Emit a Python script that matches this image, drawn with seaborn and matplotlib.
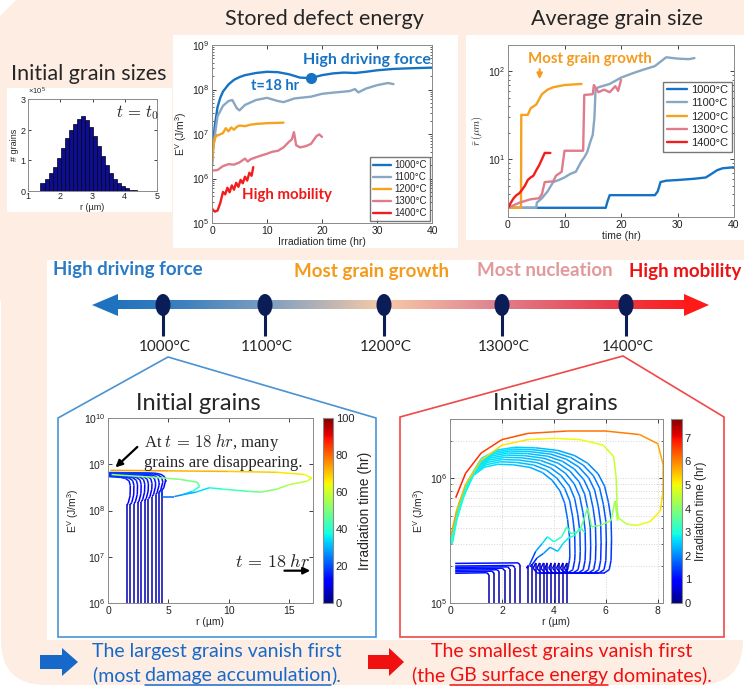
import matplotlib
matplotlib.use('Agg')
import matplotlib.pyplot as plt
import numpy as np
import pandas as pd
import seaborn as sns
from matplotlib.collections import LineCollection
from matplotlib.colors import LinearSegmentedColormap, Normalize
from matplotlib.cm import ScalarMappable
from matplotlib.patches import Ellipse, FancyBboxPatch, Polygon, Rectangle
from matplotlib.ticker import LogLocator, NullFormatter, NullLocator, ScalarFormatter, FixedLocator

sns.set_style('ticks')
plt.rcParams['font.family'] = ['Liberation Sans', 'DejaVu Sans']
plt.rcParams['mathtext.fontset'] = 'custom'
plt.rcParams['mathtext.rm'] = 'Liberation Sans'
plt.rcParams['mathtext.it'] = 'Liberation Sans:italic'
plt.rcParams['mathtext.bf'] = 'Liberation Sans:bold'

W, H = 744, 686
PEACH = '#fdede3'
TITLE_FONT = ['Lato', 'DejaVu Sans']

temps = ['1000°C', '1100°C', '1200°C', '1300°C', '1400°C']
temp_colors = ['#1673c3', '#87a7c3', '#f5a31f', '#e07b8b', '#f31d1d']

# initial grain size histogram (counts)
hist_r = [1.45, 1.575, 1.7, 1.825, 1.95, 2.075, 2.2, 2.325, 2.45, 2.575, 2.7, 2.825,
          2.95, 3.075, 3.2, 3.325, 3.45, 3.575, 3.7, 3.825, 3.95, 4.075, 4.2, 4.325]
hist_n = [27000, 39000, 59000, 79000, 108000, 139000, 172000, 199000, 218000, 234000, 243000, 230000,
          208000, 180000, 147000, 113000, 84000, 60000, 40000, 26000, 16000, 9000, 4000, 2000]

# stored defect energy vs irradiation time
t_e1000 = [0, 0.2, 0.5, 1, 1.5, 2, 3, 4, 5, 6, 8, 10, 12, 14, 16, 18, 19, 20, 22, 24, 26, 28, 30, 33, 36, 40]
e_1000 = [2e6, 6e6, 1.5e7, 4e7, 6.5e7, 9e7, 1.3e8, 1.65e8, 1.9e8, 2.1e8, 2.35e8, 2.5e8, 2.45e8, 2.2e8,
          1.85e8, 1.8e8, 1.95e8, 2.1e8, 2.3e8, 2.4e8, 2.35e8, 2.5e8, 2.7e8, 2.9e8, 3.0e8, 3.1e8]
t_e1100 = [0, 0.3, 1, 2, 3, 3.7, 4.5, 5, 6, 8, 10, 12, 13, 15, 18, 20, 22, 25, 26, 26.6, 28, 30, 32, 33]
e_1100 = [3e6, 6e6, 2.5e7, 4.3e7, 5.5e7, 5.8e7, 3.8e7, 3.4e7, 4.5e7, 5.8e7, 6.5e7, 5.5e7, 5.2e7, 6.3e7,
          6.9e7, 8e7, 8.5e7, 9.2e7, 1.02e8, 8.6e7, 1.05e8, 1.25e8, 1.4e8, 1.32e8]
t_e1200 = [0, 0.3, 0.7, 1.2, 2, 2.5, 3, 3.5, 4, 4.5, 5, 6, 7, 8, 10, 13]
e_1200 = [2e6, 6e6, 9e6, 9.5e6, 1.05e7, 1.35e7, 1.15e7, 1.4e7, 1.25e7, 1.45e7, 1.55e7, 1.5e7, 1.62e7,
          1.68e7, 1.75e7, 1.8e7]
t_e1300 = [0, 1, 2, 3, 4, 5, 6, 6.5, 7, 8, 9, 10, 11, 12, 13, 14, 14.5, 14.9, 15.3, 16, 17, 18, 19, 19.5, 20]
e_1300 = [1.5e6, 1.55e6, 1.9e6, 2.1e6, 2.05e6, 2.3e6, 2.8e6, 2.4e6, 2.7e6, 3e6, 3.3e6, 3.6e6, 4e6, 4.2e6,
          5e6, 6.7e6, 7.5e6, 1.1e7, 5.6e6, 5e6, 5.3e6, 6e6, 9e6, 9.8e6, 8.6e6]
t_e1400 = [0, 0.5, 1, 1.5, 2, 2.4, 2.8, 3.2, 3.6, 4.0, 4.4, 4.8, 5.2, 5.6, 6.0, 6.4, 6.8, 7.2, 7.5]
e_1400 = [2.1e5, 1.8e5, 1.9e5, 2.8e5, 5e5, 4.4e5, 6.2e5, 4.9e5, 7e5, 5.6e5, 8e5, 6.5e5, 9.3e5, 7.8e5,
          1.1e6, 9e5, 1.35e6, 1.15e6, 1.8e6]

# average grain size vs time
t_r1000 = [0, 17.3, 17.6, 18, 26, 26.5, 27, 28, 30, 33, 35, 36, 37, 38, 40]
r_1000 = [2.8, 2.8, 3.3, 3.9, 3.9, 4.3, 5.5, 5.7, 5.8, 6.0, 6.2, 6.8, 7.5, 7.9, 8.1]
t_r1100 = [0, 5, 5.1, 6, 7, 8, 9, 10, 11, 12, 13, 13.5, 14, 14.6, 15, 15.3, 15.5, 16, 18, 20, 22, 24, 26,
           28, 30, 32, 33]
r_1100 = [2.8, 2.8, 3.2, 3.6, 4.3, 5.5, 5.8, 6.2, 6.8, 7.2, 9.5, 10.5, 12, 16, 19, 30, 63, 66, 72, 85, 95,
          105, 115, 145, 140, 138, 142]
t_r1200 = [0, 2.3, 2.35, 3.5, 4, 5, 6, 7, 8, 10, 13]
r_1200 = [2.8, 2.8, 32, 32, 38, 42, 55, 62, 66, 70, 72]
t_r1300 = [0, 2, 4, 5.5, 6, 6.5, 8, 8.5, 9.5, 10, 12, 13.3, 13.5, 15, 15.2, 16, 17, 18, 19, 19.5, 20]
r_1300 = [2.8, 3.2, 3.5, 3.6, 4.0, 5.5, 5.6, 6.5, 7.2, 12.5, 12.5, 12.5, 54, 55, 70, 58, 62, 58, 68, 60, 80]
t_r1400 = [0, 0.5, 1, 1.5, 2, 2.5, 3, 3.5, 4, 4.5, 5, 5.5, 6, 6.5, 7.5]
r_1400 = [2.8, 3.2, 3.6, 3.9, 4.1, 4.5, 5.0, 5.8, 6.2, 6.5, 7.5, 8.5, 10, 11.8, 11.8]

# 1000°C grain trajectories (r in um, E in J/m3, t in hr)
l_stem_r = [1.55, 1.85, 2.15, 2.45, 2.75, 3.05, 3.35, 3.65, 3.95, 4.25, 4.5]
l_stem_knee = [1.3e8, 1.35e8, 1.4e8, 1.45e8, 1.55e8, 1.65e8, 1.8e8, 2.0e8, 2.2e8, 2.5e8, 2.8e8]
l_stem_top = [5.3e8, 5.4e8, 5.5e8, 5.6e8, 5.7e8, 5.8e8, 5.9e8, 6.0e8, 6.1e8, 6.3e8, 6.5e8]
la_r = [4.4, 4.5, 5.5, 6.2, 7.3, 8.4, 9.5, 11.6, 12.7, 14, 15, 16.5, 16.9, 16.3, 14, 10, 5, 0.2]
la_e = [2.9e8, 2.0e8, 2.0e8, 2.2e8, 2.5e8, 3.1e8, 2.9e8, 2.6e8, 2.5e8, 2.9e8, 3.6e8, 4.3e8, 5.0e8, 6.0e8,
        6.7e8, 7.0e8, 7.2e8, 7.4e8]
la_t = [18, 21, 25, 28, 32, 36, 40, 46, 49, 53, 56, 59, 62, 65, 68, 71, 73, 75]
lb_r = [6.2, 7.0, 7.6, 7.4, 6.0, 3.5, 1.0, 0.3]
lb_e = [2.2e8, 2.6e8, 3.3e8, 4.1e8, 4.7e8, 5.3e8, 5.8e8, 6.0e8]
lb_t = [28, 38, 44, 48, 50, 52, 54, 55]

# 1400°C grain trajectories
rs_r = [1.5, 1.7, 1.9, 2.1, 2.3, 2.5, 2.7]
rs_top = [1.75e5, 1.8e5, 1.85e5, 1.9e5, 1.95e5, 2.0e5, 2.1e5]
arc_r0 = [3.3, 3.45, 3.6, 3.75, 3.9, 4.05, 4.2, 4.35, 4.5]
arc_right = [4.6, 4.8, 5.0, 5.2, 5.4, 5.6, 5.8, 6.0, 6.2]
arc_peak = [1.3e6, 1.36e6, 1.42e6, 1.48e6, 1.54e6, 1.6e6, 1.66e6, 1.72e6, 1.78e6]
arc_u = [1.003, 1.0, 0.984, 0.96, 0.92, 0.855, 0.774, 0.67, 0.532, 0.403, 0.29, 0.194, 0.113, 0.056, 0.019]
arc_v = [0.183, 0.263, 0.36, 0.486, 0.611, 0.743, 0.857, 0.943, 0.989, 1.0, 0.949, 0.811, 0.543, 0.354, 0.229]
arc_t = [1.45, 1.6, 1.72, 1.85, 1.97, 2.1, 2.22, 2.35, 2.48, 2.6, 2.72, 2.82, 2.92, 3.0, 3.07]
ry_r = [3.0, 3.0, 2.95, 3.05, 3.3, 3.55, 3.75, 4.0, 4.3, 4.5, 4.65, 5.0, 5.3, 5.45, 5.8, 6.2, 6.35, 6.45,
        6.4, 6.3, 5.9, 5.0, 4.0, 3.0, 2.0, 1.2, 0.6, 0.25, 0.04]
ry_e = [8e4, 2.0e5, 1.9e5, 2.0e5, 2.6e5, 3.0e5, 3.4e5, 3.1e5, 3.4e5, 4.1e5, 3.6e5, 3.8e5, 5.8e5, 4.1e5,
        4.2e5, 4.6e5, 6.6e5, 4.6e5, 1.0e6, 1.5e6, 1.85e6, 2.05e6, 2.1e6, 2.05e6, 1.85e6, 1.4e6, 9e5,
        5.5e5, 3.5e5]
ry_t = [0, 0.6, 0.8, 1.0, 2.0, 2.5, 2.8, 3.0, 3.2, 3.35, 3.45, 3.6, 3.8, 3.9, 4.0, 4.15, 4.25, 4.35, 4.5,
        4.65, 4.8, 4.95, 5.05, 5.15, 5.25, 5.4, 5.55, 5.7, 5.8]
ro_r = [6.35, 6.5, 6.8, 7.2, 7.7, 8.1, 8.2, 8.2, 8.0, 7.3, 6.0, 4.5, 3.0, 2.0, 1.2, 0.6, 0.22]
ro_e = [6.6e5, 4.8e5, 4.3e5, 4.2e5, 4.5e5, 5.5e5, 8e5, 1.3e6, 1.9e6, 2.25e6, 2.4e6, 2.4e6, 2.3e6, 2.05e6,
        1.6e6, 1.1e6, 7e5]
ro_t = [4.25, 4.4, 4.6, 4.8, 5.0, 5.2, 5.4, 5.6, 5.8, 6.0, 6.1, 6.2, 6.35, 6.5, 6.65, 6.8, 6.9]
rq_r = [3.15, 3.15, 3.1, 3.35, 3.6, 3.85, 4.15, 4.35, 4.55, 4.8, 5.0, 5.2]
rq_e = [8e4, 2.05e5, 1.95e5, 2.3e5, 2.5e5, 2.8e5, 2.6e5, 3.0e5, 3.3e5, 3.5e5, 4.0e5, 3.7e5]
rq_t = [0, 0.6, 0.8, 1.6, 2.0, 2.3, 2.5, 2.7, 2.9, 3.1, 3.3, 3.45]

timeline_x = [163, 265, 384, 502, 626]


def rect(l, t, r, b):
    return [l / W, 1 - b / H, (r - l) / W, (b - t) / H]


def matlab_axes(ax):
    ax.tick_params(direction='in', top=True, right=True, length=3, width=0.6, labelsize=7.5,
                   colors='#222222', pad=2)
    ax.tick_params(which='minor', direction='in', top=True, right=True, length=1.6, width=0.5)
    for s in ax.spines.values():
        s.set_color('#8a8a8a')
        s.set_linewidth(0.7)


def add_path(segs, vals, r, e, t):
    for i in range(len(r) - 1):
        segs.append([(r[i], e[i]), (r[i + 1], e[i + 1])])
        vals.append(0.5 * (t[i] + t[i + 1]))


fig = plt.figure(figsize=(W / 100, H / 100), dpi=100, facecolor='white')

# ---------- background layer in pixel coordinates ----------
bg = fig.add_axes([0, 0, 1, 1])
bg.set_xlim(0, W)
bg.set_ylim(H, 0)
bg.axis('off')
bg.add_patch(FancyBboxPatch((1, 1), W - 2, H - 2, boxstyle='round,pad=0,rounding_size=45',
                            fc=PEACH, ec='none'))
bg.add_patch(Rectangle((0, 0), W, 300, fc=PEACH, ec='none'))
bg.add_patch(Polygon([(0, 0), (16, 0), (0, 16)], fc='white', ec='none'))
for (x0, y0, w, h) in [(7, 88, 165, 124), (173, 35, 285, 213), (466, 35, 278, 205), (47, 260, 697, 380)]:
    bg.add_patch(Rectangle((x0, y0), w, h, fc='white', ec='none'))

bg.text(89, 74, 'Initial grain sizes', fontsize=15.5, family=TITLE_FONT, ha='center', va='center')
bg.text(324, 19, 'Stored defect energy', fontsize=15.5, family=TITLE_FONT, ha='center', va='center')
bg.text(617, 19, 'Average grain size', fontsize=15.5, family=TITLE_FONT, ha='center', va='center')

# timeline
grad = LinearSegmentedColormap.from_list('tl', [
    (0.0, '#1f72bd'), (0.12, '#3b7fbf'), (0.28, '#82a0bf'), (0.47, '#f7cba8'),
    (0.66, '#e08490'), (0.86, '#e8404e'), (1.0, '#ff1a1a')])
bg.imshow(np.linspace(0, 1, 256)[None, :], cmap=grad, aspect='auto',
          extent=[110, 690, 309.5, 300.5], zorder=2)
bg.add_patch(Polygon([(92, 305), (118, 294), (118, 316)], fc='#1f72bd', ec='none', zorder=3))
bg.add_patch(Polygon([(709, 305), (684, 294), (684, 316)], fc='#ff1a1a', ec='none', zorder=3))
for x, lab in zip(timeline_x, temps):
    bg.plot([x, x], [305, 336], color='#0b1d57', lw=2.2, zorder=4, solid_capstyle='butt')
    bg.add_patch(Ellipse((x, 305), 15, 22, fc='#0b1d57', ec='none', zorder=5))
    bg.text(x + 2, 347, lab, fontsize=11, family=TITLE_FONT, ha='center', va='center')

bg.text(53, 270, 'High driving force', color='#2a7ac6', fontsize=13.5, fontweight='bold',
        family=TITLE_FONT, ha='left', va='center')
bg.text(371, 271, 'Most grain growth', color='#f59a1b', fontsize=13.5, fontweight='bold',
        family=TITLE_FONT, ha='center', va='center')
bg.text(545, 271, 'Most nucleation', color='#e3999b', fontsize=13.5, fontweight='bold',
        family=TITLE_FONT, ha='center', va='center')
bg.text(741, 271, 'High mobility', color='#ee1111', fontsize=13.5, fontweight='bold',
        family=TITLE_FONT, ha='right', va='center')

# frames around the two detail panels
bg.add_patch(Polygon([(58, 637), (58, 418), (168, 357), (376, 418), (376, 637)], closed=True,
                     fc='none', ec='#4a93d3', lw=1.2))
bg.add_patch(Polygon([(400, 637), (400, 417), (623, 356), (724, 417), (724, 637)], closed=True,
                     fc='none', ec='#f04848', lw=1.2))
bg.text(198, 403, 'Initial grains', fontsize=17, family=TITLE_FONT, ha='center', va='center')
bg.text(555, 403, 'Initial grains', fontsize=17, family=TITLE_FONT, ha='center', va='center')

# bottom conclusions
bg.add_patch(Polygon([(40, 655), (62, 655), (62, 648), (78, 662), (62, 676), (62, 669), (40, 669)],
                     fc='#1769c9', ec='none'))
bg.add_patch(Polygon([(368, 655), (389, 655), (389, 648), (404, 662), (389, 676), (389, 669), (368, 669)],
                     fc='#f01010', ec='none'))
renderer = fig.canvas.get_renderer()


def text_line(xc, y, pieces, color, underline):
    objs = [bg.text(0, y, p, color=color, fontsize=14, family=TITLE_FONT, ha='left', va='center')
            for p in pieces]
    widths = [o.get_window_extent(renderer).width for o in objs]
    x = xc - sum(widths) / 2
    for o, w, u in zip(objs, widths, underline):
        o.set_x(x)
        if u:
            bg.plot([x, x + w], [y + 9.5, y + 9.5], color=color, lw=1.1)
        x += w


text_line(217, 651, ['The largest grains vanish first'], '#1769c9', [False])
text_line(217, 675, ['(most ', 'damage accumulation', ').'], '#1769c9', [False, True, False])
text_line(562, 651, ['The smallest grains vanish first'], '#f01010', [False])
text_line(562, 675, ['(the ', 'GB surface energy', ' dominates).'], '#f01010', [False, True, False])

# ---------- histogram ----------
ax_h = fig.add_axes(rect(28, 99, 157, 191))
ax_h.bar(hist_r, hist_n, width=0.125, color='#0e0e8c', edgecolor='#000022', linewidth=0.5)
ax_h.set_xlim(1, 5)
ax_h.set_ylim(0, 3e5)
ax_h.set_xticks([1, 2, 3, 4, 5])
ax_h.set_yticks([0, 1e5, 2e5, 3e5])
fmt = ScalarFormatter(useMathText=True)
fmt.set_powerlimits((0, 0))
ax_h.yaxis.set_major_formatter(fmt)
ax_h.yaxis.get_offset_text().set_fontsize(5.5)
matlab_axes(ax_h)
ax_h.tick_params(labelsize=6.5, length=2, pad=1)
ax_h.set_xlabel('r (µm)', fontsize=6.5, labelpad=1)
ax_h.set_ylabel('# grains', fontsize=6.5, labelpad=1)
ax_h.text(0.68, 0.8, r'$t\,=\,t_0$', transform=ax_h.transAxes, fontsize=12, math_fontfamily='cm')

# ---------- stored defect energy ----------
e_series = [(t_e1000, e_1000), (t_e1100, e_1100), (t_e1200, e_1200), (t_e1300, e_1300), (t_e1400, e_1400)]
df_e = pd.concat([pd.DataFrame({'t': t, 'E': e, 'T': name}) for (t, e), name in zip(e_series, temps)])
ax_e = fig.add_axes(rect(212, 45, 432, 223))
sns.lineplot(data=df_e, x='t', y='E', hue='T', hue_order=temps, palette=temp_colors, sort=False,
             estimator=None, lw=1.7, ax=ax_e, legend=False)
ax_e.set_yscale('log')
ax_e.set_xlim(0, 40)
ax_e.set_ylim(1e5, 1e9)
ax_e.yaxis.set_major_locator(LogLocator(base=10, numticks=10))
ax_e.yaxis.set_minor_locator(LogLocator(base=10, subs=np.arange(2, 10), numticks=20))
ax_e.yaxis.set_minor_formatter(NullFormatter())
matlab_axes(ax_e)
ax_e.set_xlabel('Irradiation time (hr)', fontsize=7.5, labelpad=1)
ax_e.set_ylabel('E$^{\\mathrm{V}}$ (J/m$^3$)', fontsize=7.5, labelpad=2)
ax_e.plot([18], [1.8e8], 'o', color=temp_colors[0], ms=7)
ax_e.legend(ax_e.lines[:5], temps, loc='lower right', fontsize=7, handlelength=1.8, handletextpad=0.4,
            labelspacing=0.2, borderpad=0.3, frameon=True, fancybox=False, edgecolor='#555555',
            borderaxespad=0.2)
ax_e.text(28.2, 4.6e8, 'High driving force', color=temp_colors[0], fontsize=11.5, fontweight='bold',
          family=TITLE_FONT, ha='center', va='center')
ax_e.text(11.5, 1.2e8, 't=18 hr', color=temp_colors[0], fontsize=10.5, fontweight='bold',
          family=TITLE_FONT, ha='center', va='center')
ax_e.text(13.6, 4.3e5, 'High mobility', color='#f01818', fontsize=10.8, fontweight='bold',
          family=TITLE_FONT, ha='center', va='center')

# ---------- average grain size ----------
r_series = [(t_r1000, r_1000), (t_r1100, r_1100), (t_r1200, r_1200), (t_r1300, r_1300), (t_r1400, r_1400)]
df_r = pd.concat([pd.DataFrame({'t': t, 'r': r, 'T': name}) for (t, r), name in zip(r_series, temps)])
ax_r = fig.add_axes(rect(508, 45, 734, 217))
sns.lineplot(data=df_r, x='t', y='r', hue='T', hue_order=temps, palette=temp_colors, sort=False,
             estimator=None, lw=1.7, ax=ax_r, legend=False)
ax_r.set_yscale('log')
ax_r.set_xlim(0, 40)
ax_r.set_ylim(2.2, 200)
ax_r.yaxis.set_major_locator(FixedLocator([10, 100]))
ax_r.yaxis.set_minor_locator(LogLocator(base=10, subs=np.arange(2, 10), numticks=20))
ax_r.yaxis.set_minor_formatter(NullFormatter())
matlab_axes(ax_r)
ax_r.set_xlabel('time (hr)', fontsize=7.5, labelpad=1)
ax_r.set_ylabel(r'$\bar{r}\,(\mu m)$', fontsize=7.5, labelpad=2, math_fontfamily='cm')
ax_r.legend(ax_r.lines[:5], temps, loc='upper right', bbox_to_anchor=(1.0, 0.8), fontsize=8,
            handlelength=1.8, handletextpad=0.4, labelspacing=0.3, borderpad=0.3, frameon=True,
            fancybox=False, edgecolor='#555555', borderaxespad=0.2)
ax_r.text(14.5, 139, 'Most grain growth', color='#f59a1b', fontsize=10.8, fontweight='bold',
          family=TITLE_FONT, ha='center', va='center')
ax_r.annotate('', xy=(5.6, 76), xytext=(5.6, 114),
              arrowprops=dict(arrowstyle='-|>', color='#f59a1b', lw=1.5, mutation_scale=8))

# ---------- 1000°C trajectories ----------
jet = plt.get_cmap('jet')
ax_l = fig.add_axes(rect(108, 418, 313, 603))
segs, vals = [], []
for r0, kn, top in zip(l_stem_r, l_stem_knee, l_stem_top):
    add_path(segs, vals,
             [r0, r0, r0 + 0.12, r0 + 0.28, r0 + 0.3, r0 + 0.2, r0 - 0.1, r0 - 0.5, r0 - 1.0, 0.05],
             [1e5, kn, kn * 1.1, kn * 1.6, top * 0.65, top * 0.82, top * 0.93, top * 0.98, top, top * 1.02],
             [0, 9, 11, 12.5, 14, 15, 16, 16.8, 17.5, 18.5])
add_path(segs, vals, lb_r, lb_e, lb_t)
add_path(segs, vals, la_r, la_e, la_t)
norm_l = Normalize(0, 100)
ax_l.add_collection(LineCollection(segs, array=np.array(vals), cmap=jet, norm=norm_l, lw=1.1))
ax_l.set_yscale('log')
ax_l.set_xlim(0, 17)
ax_l.set_ylim(1e6, 1e10)
ax_l.set_xticks([0, 5, 10, 15])
ax_l.yaxis.set_major_locator(LogLocator(base=10, numticks=10))
ax_l.yaxis.set_minor_locator(NullLocator())
matlab_axes(ax_l)
ax_l.set_xlabel('r (µm)', fontsize=7.5, labelpad=1)
ax_l.set_ylabel('E$^{\\mathrm{V}}$ (J/m$^3$)', fontsize=7.5, labelpad=2)
ax_l.text(3.0, 4.9e9, 'At $t\\,=\\,18\\;hr$, many\ngrains are disappearing.', fontsize=12,
          family=['Liberation Serif', 'DejaVu Serif'], math_fontfamily='cm', va='top', ha='left',
          linespacing=1.15)
ax_l.annotate('', xy=(0.45, 7.8e8), xytext=(2.6, 2.6e9),
              arrowprops=dict(arrowstyle='-|>', color='black', lw=1.6, mutation_scale=10))
ax_l.text(13.6, 7.6e6, r'$t\,=\,18\;hr$', fontsize=13, math_fontfamily='cm', ha='center', va='center')
ax_l.annotate('', xy=(17, 5.0e6), xytext=(14.4, 5.0e6),
              arrowprops=dict(arrowstyle='-|>', color='black', lw=1.6, mutation_scale=10))
cax_l = fig.add_axes(rect(323, 418, 333, 603))
cb = fig.colorbar(ScalarMappable(norm=norm_l, cmap=jet), cax=cax_l, ticks=[0, 20, 40, 60, 80, 100])
cb.outline.set_edgecolor('#8a8a8a')
cb.ax.tick_params(labelsize=8, length=0, pad=2)
cb.set_label('Irradiation time (hr)', fontsize=10, labelpad=3)

# ---------- 1400°C trajectories ----------
ax_g = fig.add_axes(rect(450, 419, 663, 603))
segs, vals = [], []
for r0, top in zip(rs_r, rs_top):
    add_path(segs, vals, [r0, r0, r0 - 0.08, 0.2], [8e4, top * 0.96, top, top * 0.99], [0, 0.6, 0.8, 1.4])
for r0, R, P in zip(arc_r0, arc_right, arc_peak):
    rr = [r0, r0, r0 - 0.1, r0 + 0.05, R - 0.25, R - 0.07, R] + [R * u for u in arc_u] + [0.03]
    ee = [8e4, 2.1e5, 1.9e5, 1.75e5, 1.75e5, 1.85e5, 2.2e5] + [P * v for v in arc_v] + [3e5]
    tt = [0, 0.6, 0.75, 0.9, 1.2, 1.28, 1.35] + arc_t + [3.12]
    add_path(segs, vals, rr, ee, tt)
add_path(segs, vals, rq_r, rq_e, rq_t)
add_path(segs, vals, ry_r, ry_e, ry_t)
add_path(segs, vals, ro_r, ro_e, ro_t)
norm_g = Normalize(0, 7.8)
ax_g.add_collection(LineCollection(segs, array=np.array(vals), cmap=jet, norm=norm_g, lw=1.1))
ax_g.set_yscale('log')
ax_g.set_xlim(0, 8.2)
ax_g.set_ylim(1e5, 3e6)
ax_g.set_xticks([0, 2, 4, 6, 8])
ax_g.yaxis.set_major_locator(FixedLocator([1e5, 1e6]))
ax_g.yaxis.set_minor_locator(LogLocator(base=10, subs=np.arange(2, 10), numticks=20))
ax_g.yaxis.set_minor_formatter(NullFormatter())
ax_g.grid(True, which='both', color='#d4d4d4', ls=':', lw=0.7)
matlab_axes(ax_g)
ax_g.set_xlabel('r (µm)', fontsize=7.5, labelpad=1)
ax_g.set_ylabel('E$^{\\mathrm{V}}$ (J/m$^3$)', fontsize=7.5, labelpad=2)
cax_g = fig.add_axes(rect(671, 419, 682, 603))
cb = fig.colorbar(ScalarMappable(norm=norm_g, cmap=jet), cax=cax_g, ticks=list(range(8)))
cb.outline.set_edgecolor('#8a8a8a')
cb.ax.tick_params(labelsize=8, length=0, pad=2)
cb.set_label('Irradiation time (hr)', fontsize=8.5, labelpad=3)

fig.savefig('out.png', dpi=100, facecolor='white')
